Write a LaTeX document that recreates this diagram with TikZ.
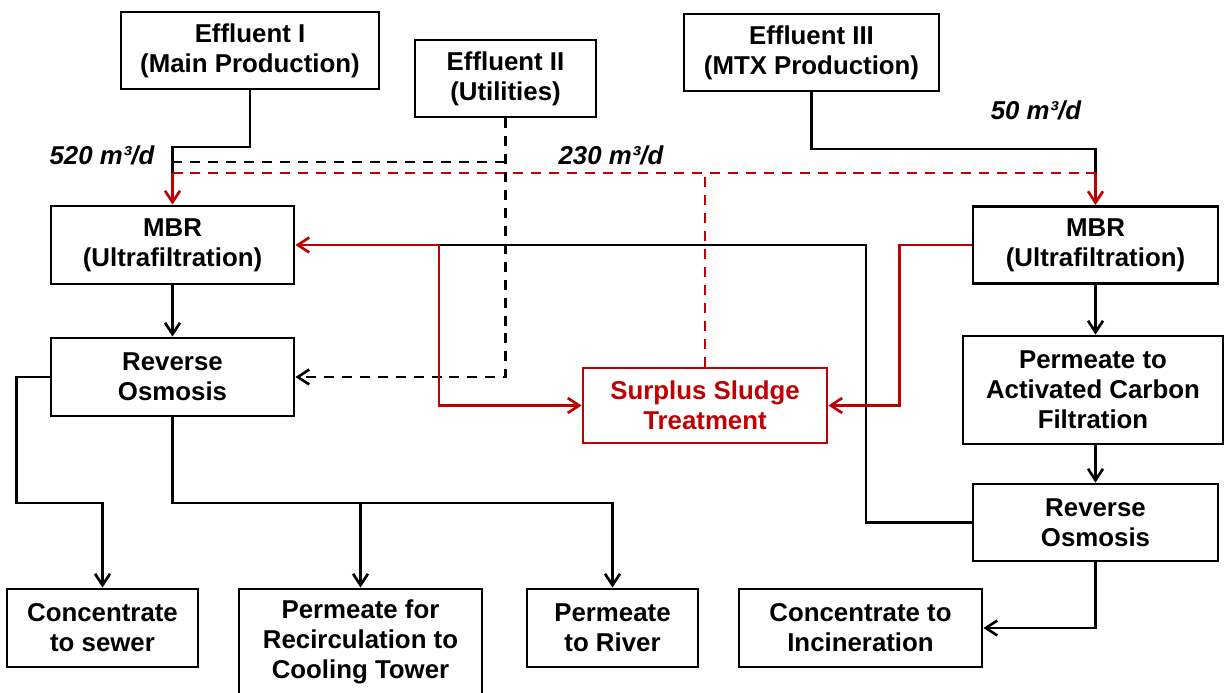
\documentclass[tikz,border=0pt]{standalone}
\usepackage{fontspec}
\setmainfont{Liberation Sans}
\usetikzlibrary{arrows.meta}
\definecolor{sludgeRed}{RGB}{192,0,0}
\newcommand{\px}{0.02cm}
\tikzstyle{plant} = [x = \px, y = -\px]
\tikzstyle{unitBox} = [draw, line width=1.6pt, align=center, inner sep=0pt, font=\bfseries\fontsize{14.7}{17}\selectfont]
\tikzstyle{sludgeBox} = [unitBox, draw=sludgeRed, text=sludgeRed]
\tikzstyle{flowLine} = [line width=1.5pt]
\tikzstyle{flowArrow} = [flowLine, -{Straight Barb[length=6.5pt, width=8.5pt]}]
\tikzstyle{sludgeFlow} = [flowArrow, color=sludgeRed]
\tikzstyle{dashedFlow} = [flowLine, dash pattern=on 5.7pt off 4.5pt]
\tikzstyle{rateText} = [font=\bfseries\itshape\fontsize{14.7}{17}\selectfont]
\newcommand{\unitNode}[7][unitBox]{\node [#1, minimum width=#5*\px, minimum height=#6*\px] (#2) at (#3,#4) {#7};}

\begin{document}
\begin{tikzpicture}[plant]
  \fill [white] (0,0) rectangle (1225,693);
  \useasboundingbox (0,0) rectangle (1225,693);

  \unitNode{effluentOne}{250}{50.5}{258}{77}{Effluent I\\(Main Production)}
  \unitNode{effluentTwo}{505.5}{78.5}{181}{77}{Effluent II\\(Utilities)}
  \unitNode{effluentThree}{811.5}{52.5}{255}{77}{Effluent III\\(MTX Production)}
  \unitNode{mbrLeft}{172.5}{245}{243}{78}{MBR\\(Ultrafiltration)}
  \unitNode{roLeft}{172.5}{377}{243}{78}{Reverse\\Osmosis}
  \unitNode[sludgeBox]{sludge}{705}{405.5}{244}{75}{Surplus Sludge\\Treatment}
  \unitNode{mbrRight}{1095.5}{245}{245}{77}{MBR\\(Ultrafiltration)}
  \unitNode{carbon}{1093}{390}{260}{108}{Permeate to\\Activated Carbon\\Filtration}
  \unitNode{roRight}{1095.5}{522.5}{245}{77}{Reverse\\Osmosis}
  \unitNode{sewer}{102.5}{628}{191}{78}{Concentrate\\to sewer}
  \unitNode{cooling}{360.5}{642}{243}{106}{Permeate for\\Recirculation to\\Cooling Tower}
  \unitNode{river}{612.5}{628}{171}{78}{Permeate\\to River}
  \unitNode{incineration}{860.5}{628}{243}{78}{Concentrate to\\Incineration}

  \node [rateText] (rateOne) at (102,155) {520 m³/d};
  \node [rateText] (rateTwo) at (611,155) {230 m³/d};
  \node [rateText] (rateThree) at (1036,110) {50 m³/d};

  \coordinate (mixLeft) at (172.5,173);
  \coordinate (mixRight) at (1095.5,173);
  \coordinate (utilTurn) at (505,162);
  \coordinate (sludgeSplit) at (439,245);
  \coordinate (permeateRow) at (0,503);

  \draw [flowLine] (effluentOne.south) |- (172.5,147) -- (mixLeft);
  \draw [flowLine] (effluentThree.south) |- (1095.5,149) -- (mixRight);
  \draw [sludgeFlow] (mixLeft) -- (mbrLeft.north);
  \draw [sludgeFlow] (mixRight) -- (mbrRight.north);
  \draw [dashedFlow, sludgeRed] (mixLeft) -- (mixRight);
  \draw [dashedFlow, sludgeRed] (sludge.north) -- (sludge.north |- mixLeft);
  \draw [dashedFlow] (utilTurn) -- (172.5,162);
  \draw [dashedFlow, -{Straight Barb[length=6.5pt, width=8.5pt]}] (effluentTwo.south) |- (roLeft.east);

  \draw [flowLine] (roRight.west) -| (866,245) -- (sludgeSplit);
  \draw [sludgeFlow] (sludgeSplit) -- (mbrLeft.east);
  \draw [sludgeFlow] (sludgeSplit) |- (sludge.west);
  \draw [sludgeFlow] (mbrRight.west) -- ++(-72,0) |- (sludge.east);

  \draw [flowArrow] (mbrLeft) -- (roLeft);
  \draw [flowArrow] (roLeft.west) -- ++(-33,0) |- (sewer.north |- permeateRow) -- (sewer.north);
  \draw [flowArrow] (roLeft.south) |- (river.north |- permeateRow) -- (river.north);
  \draw [flowArrow] (cooling.north |- permeateRow) -- (cooling.north);

  \draw [flowArrow] (mbrRight.south) -- (mbrRight.south |- carbon.north);
  \draw [flowArrow] (roRight.north |- carbon.south) -- (roRight.north);
  \draw [flowArrow] (roRight.south) |- (incineration.east);
\end{tikzpicture}
\end{document}
